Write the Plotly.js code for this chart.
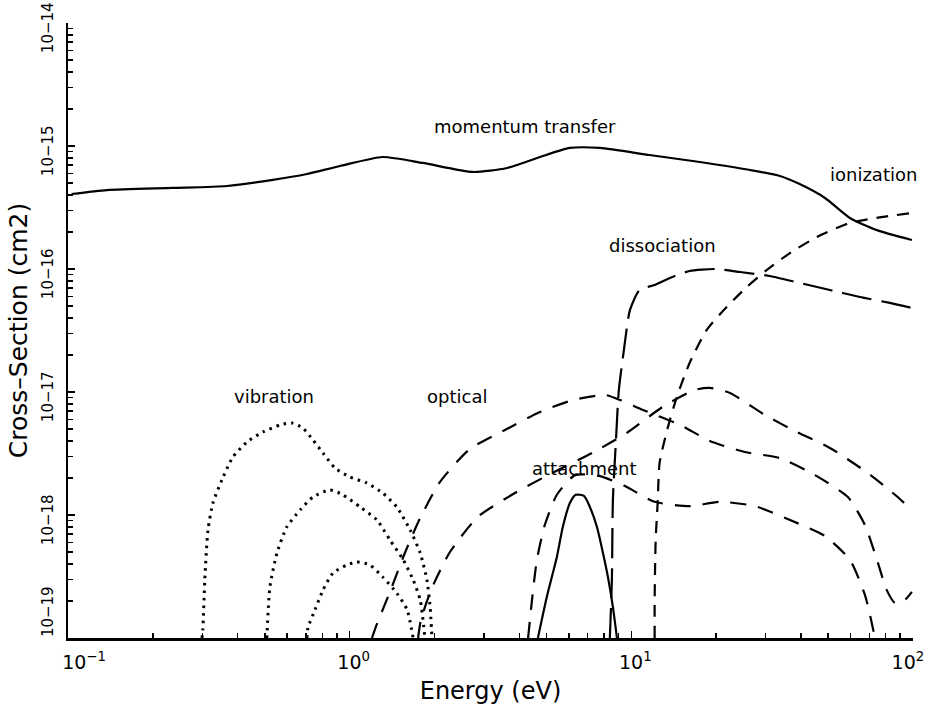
<!DOCTYPE html>
<html><head><meta charset="utf-8">
<script src="https://cdn.plot.ly/plotly-3.0.1.min.js"></script>
<style>html,body{margin:0;padding:0;background:#fff}#chart{width:928px;height:707px}</style>
</head><body><div id="chart"></div>
<script>
// Energy (eV) and cross-section (cm^2) values
const momentumE = [0.103,0.1375,0.236,0.367,0.534,0.705,0.924,1.31,1.82,2.74,3.62,4.74,6.05,7.74,11.6,17.5,26.4,33.7,39.6,48.7,59.7,74.5,99.1];
const momentumS = [4.07e-16,4.38e-16,4.56e-16,4.73e-16,5.30e-16,5.92e-16,6.87e-16,8.14e-16,7.28e-16,6.15e-16,6.63e-16,8.14e-16,9.64e-16,9.64e-16,8.45e-16,7.41e-16,6.38e-16,5.70e-16,4.90e-16,3.78e-16,2.60e-16,2.07e-16,1.72e-16];

const ionizE = [12.1,12.1,12.2,12.4,12.6,13.4,14.5,16.1,18.5,21.8,25.7,30.3,36.6,45.6,59.7,78.2,99.1];
const ionizS = [1e-19,2.04e-19,6.27e-19,1.25e-18,2.65e-18,4.91e-18,9.10e-18,1.72e-17,3.19e-17,4.91e-17,7.14e-17,9.82e-17,1.35e-16,1.82e-16,2.37e-16,2.65e-16,2.85e-16];

const dissE = [8.39,8.53,8.60,8.82,9.03,9.41,9.89,10.7,12.1,13.7,16.1,19.8,24.3,31.0,39.7,50.7,64.8,82.8,99.1];
const dissS = [1e-19,2.97e-19,1.32e-18,4.07e-18,1.04e-17,2.19e-17,4.65e-17,6.75e-17,7.41e-17,8.45e-17,9.64e-17,1.0e-16,9.46e-17,8.77e-17,7.69e-17,6.75e-17,5.92e-17,5.30e-17,4.82e-17];

const optAE = [1.20,1.25,1.39,1.57,1.78,2.09,2.67,3.56,4.74,6.21,8.06,9.12,11.0,14.9,19.0,25.3,33.7,44.9,58.7,67.5,74.5,80.7,86.3,93.6,99.1];
const optAS = [1e-19,1.30e-19,2.37e-19,4.91e-19,9.46e-19,1.85e-18,3.44e-18,4.91e-18,6.87e-18,8.61e-18,9.46e-18,8.61e-18,7.15e-18,5.40e-18,4.00e-18,3.25e-18,2.90e-18,2.11e-18,1.40e-18,8.30e-19,4.31e-19,2.45e-19,1.93e-19,2.04e-19,2.37e-19];

const optBE = [1.75,1.79,1.96,2.27,2.85,3.86,5.14,7.36,9.64,12.9,16.8,19.0,22.4,29.8,38.7,50.7,69.2,86.3,99.1];
const optBS = [1e-19,1.40e-19,2.56e-19,5.00e-19,9.64e-19,1.51e-18,2.15e-18,3.25e-18,4.65e-18,7.55e-18,1.04e-17,1.08e-17,9.82e-18,6.50e-18,4.73e-18,3.51e-18,2.19e-18,1.46e-18,1.10e-18];

const optCE = [4.30,4.44,4.62,4.93,5.44,6.31,7.74,9.49,12.1,16.1,20.6,27.5,36.6,48.7,59.7,67.5,73.3];
const optCS = [1e-19,2.04e-19,4.31e-19,8.30e-19,1.46e-18,2.11e-18,2.07e-18,1.72e-18,1.28e-18,1.18e-18,1.28e-18,1.18e-18,9.10e-19,6.75e-19,4.31e-19,2.24e-19,1e-19];

const vib1E = [0.299,0.301,0.306,0.314,0.327,0.352,0.385,0.432,0.492,0.566,0.624,0.682,0.741,0.804,0.887,1.00,1.15,1.31,1.47,1.64,1.78,1.88,1.93,1.96];
const vib1S = [1e-19,1.16e-19,2.97e-19,7.55e-19,1.25e-18,1.93e-18,2.96e-18,3.92e-18,4.73e-18,5.40e-18,5.60e-18,5.09e-18,4.07e-18,3.19e-18,2.41e-18,2.04e-18,1.82e-18,1.51e-18,1.16e-18,7.55e-19,4.91e-19,2.97e-19,1.79e-19,1e-19];

const vib2E = [0.508,0.521,0.552,0.598,0.667,0.741,0.851,0.946,1.09,1.25,1.39,1.55,1.68,1.78,1.85];
const vib2S = [1e-19,2.60e-19,4.91e-19,7.98e-19,1.10e-18,1.40e-18,1.60e-18,1.46e-18,1.16e-18,9.10e-19,6.27e-19,4.31e-19,2.97e-19,2.04e-19,1e-19];

const vib3E = [0.705,0.711,0.753,0.804,0.873,0.978,1.06,1.18,1.31,1.47,1.60,1.68];
const vib3S = [1e-19,1.21e-19,1.69e-19,2.45e-19,3.38e-19,3.92e-19,4.15e-19,3.92e-19,3.13e-19,2.32e-19,1.69e-19,1e-19];

const attE = [4.66,5.01,5.44,5.71,6.05,6.35,6.79,7.13,7.55,7.93,8.26,8.60,8.89];
const attS = [1e-19,2.15e-19,4.56e-19,7.98e-19,1.25e-18,1.46e-18,1.43e-18,1.16e-18,7.98e-19,4.91e-19,3.13e-19,1.79e-19,1e-19];

const NB = '\u00a0';
const xTickVals = [0.1, 1, 10, 100];
const xTickText = [NB.repeat(4)+'10<sup>−1</sup>','10<sup>0</sup>','10<sup>1</sup>','10<sup>2</sup>'+NB.repeat(3)];
const yTickVals = [1e-19,1e-18,1e-17,1e-16,1e-15,1e-14];
const yTickText = [NB.repeat(13)+'10−19','10−18','10−17','10−16','10−15','10−14'];

const curveLabels = ['momentum transfer','ionization','dissociation','vibration','optical','attachment'];

function minorVals(lo, hi){ const v=[]; for(let d=lo; d<hi; d++){ for(let k=2;k<=9;k++) v.push(k*Math.pow(10,d)); } return v; }

const FONT = 'DejaVu Sans, Liberation Sans, sans-serif';
const mk = (x,y,dash,w) => ({x:x,y:y,type:'scatter',mode:'lines',line:{color:'#000',width:w||2,dash:dash,shape:'spline',smoothing:0.6},hoverinfo:'skip',showlegend:false});

const traces = [
  mk(momentumE,momentumS,'solid',2.2),
  mk(ionizE,ionizS,'12px,9px',2.2),
  mk(dissE,dissS,'30px,10px',2.2),
  mk(optAE,optAS,'16px,12px',2.2),
  mk(optBE,optBS,'16px,12px',2.2),
  mk(optCE,optCS,'16px,12px',2.2),
  mk(vib1E,vib1S,'2.5px,5px',3),
  mk(vib2E,vib2S,'2.5px,5px',3),
  mk(vib3E,vib3S,'2.5px,5px',3),
  mk(attE,attS,'solid',2.2)
];

const annPos = [[0.541,0.831],[0.953,0.753],[0.703,0.639],[0.244,0.393],[0.460,0.393],[0.611,0.276]];
const annotations = curveLabels.map((t,i)=>({text:t,xref:'paper',yref:'paper',x:annPos[i][0],y:annPos[i][1],showarrow:false,xanchor:'center',yanchor:'middle',font:{family:FONT,size:18,color:'#000'}}));

const layout = {
  width:928,height:707,
  margin:{l:68,r:15,t:23,b:69,pad:0},
  paper_bgcolor:'#fff',plot_bgcolor:'#fff',
  font:{family:FONT,color:'#000'},
  showlegend:false,
  xaxis:{type:'log',range:[-1,2],showgrid:false,zeroline:false,showline:true,linecolor:'#000',linewidth:2.5,
    ticks:'inside',ticklen:7,tickwidth:1.5,tickcolor:'#000',tickmode:'array',tickvals:xTickVals,ticktext:xTickText,
    tickfont:{family:FONT,size:19},ticklabelstandoff:6,ticklabelshift:4,ticklabeloverflow:'allow',
    minor:{ticks:'inside',ticklen:5,tickwidth:1.5,tickcolor:'#000',tickmode:'array',tickvals:minorVals(-1,2)},
    title:{text:'Energy (eV)',font:{family:FONT,size:24},standoff:10}},
  yaxis:{type:'log',range:[-19,-14],showgrid:false,zeroline:false,showline:true,linecolor:'#000',linewidth:2.5,
    ticks:'inside',ticklen:7,tickwidth:1.5,tickcolor:'#000',tickmode:'array',tickvals:yTickVals,ticktext:yTickText,
    tickangle:-90,tickfont:{family:FONT,size:15},ticklabelstandoff:7,ticklabelshift:7,ticklabeloverflow:'allow',
    minor:{ticks:'inside',ticklen:5,tickwidth:1.5,tickcolor:'#000',tickmode:'array',tickvals:minorVals(-19,-14)},
    title:{text:'Cross–Section (cm2)',font:{family:FONT,size:25},standoff:4}},
  annotations:annotations
};

Plotly.newPlot('chart',traces,layout,{staticPlot:true,displayModeBar:false});
</script>
</body></html>
